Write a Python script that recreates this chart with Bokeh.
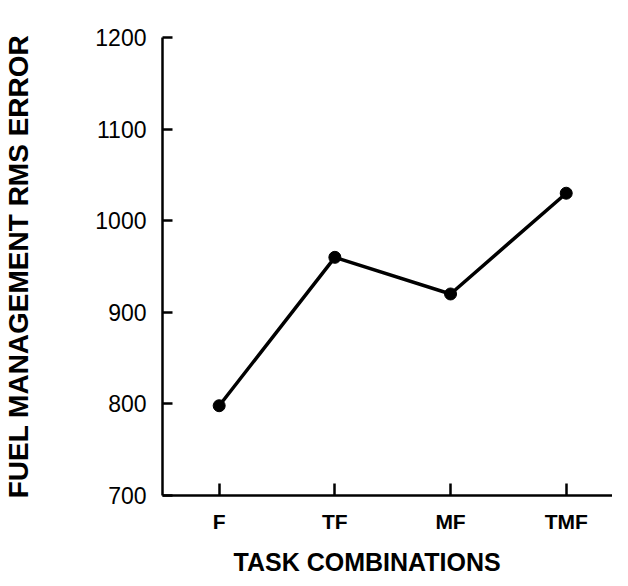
from bokeh.plotting import figure
from bokeh.models import FixedTicker, Title, Range1d
from bokeh.embed import file_html
from bokeh.resources import INLINE

categories = ["F", "TF", "MF", "TMF"]
rms_error = [798, 960, 920, 1030]
y_ticks = [700, 800, 900, 1000, 1100, 1200]

xs = list(range(len(categories)))

p = figure(width=612, height=586, output_backend="svg", toolbar_location=None,
           x_range=Range1d(-0.49, 3.40), y_range=Range1d(700, 1200),
           min_border_left=153, min_border_right=0, min_border_top=37, min_border_bottom=90)
p.outline_line_color = None
p.grid.grid_line_color = None
p.background_fill_color = "white"
p.border_fill_color = "white"

p.line(xs, rms_error, line_color="black", line_width=3.5)
p.scatter(xs, rms_error, size=12, fill_color="black", line_color="black")

FONT = "Liberation Sans"

yax = p.yaxis[0]
yax.ticker = FixedTicker(ticks=y_ticks)
yax.minor_tick_line_color = None
yax.major_tick_in = 10
yax.major_tick_out = 0
yax.major_tick_line_width = 2.5
yax.axis_line_width = 2.5
yax.axis_line_color = "black"
yax.major_tick_line_color = "black"
yax.major_label_text_font = FONT
yax.major_label_text_font_size = "23px"
yax.major_label_text_color = "black"
yax.major_label_standoff = 16
yax.axis_label = "FUEL MANAGEMENT RMS ERROR"
yax.axis_label_text_font = FONT
yax.axis_label_text_font_style = "bold"
yax.axis_label_text_font_size = "28px"
yax.axis_label_text_color = "black"
yax.axis_label_standoff = 58

xax = p.xaxis[0]
xax.ticker = FixedTicker(ticks=xs)
xax.major_label_overrides = {i: c for i, c in zip(xs, categories)}
xax.minor_tick_line_color = None
xax.major_tick_in = 12
xax.major_tick_out = 0
xax.major_tick_line_width = 2.5
xax.axis_line_width = 2.5
xax.axis_line_color = "black"
xax.major_tick_line_color = "black"
xax.major_label_text_font = FONT
xax.major_label_text_font_style = "bold"
xax.major_label_text_font_size = "21px"
xax.major_label_text_color = "black"
xax.major_label_standoff = 14

title = Title(text="TASK COMBINATIONS", text_font=FONT, text_font_style="bold",
              text_font_size="25px", text_color="black", align="left",
              offset=71, standoff=21)
p.add_layout(title, "below")

open("out.html", "w").write(file_html(p, INLINE))
